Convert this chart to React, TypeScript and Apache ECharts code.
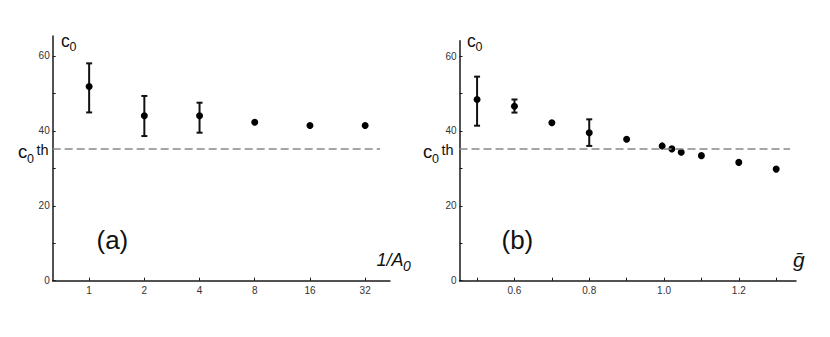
import React, { useEffect, useRef } from "react";
import * as echarts from "echarts";

// Panel (a): c0 versus 1/A0
const aInverse = [1, 2, 4, 8, 16, 32];
const aC0 = [51.8, 44.0, 44.0, 42.3, 41.4, 41.4];
const aErrLow = [44.9, 38.6, 39.5, null, null, null];
const aErrHigh = [58.0, 49.3, 47.5, null, null, null];

// Panel (b): c0 versus g-bar
const gBar = [0.5, 0.6, 0.7, 0.8, 0.9, 0.995, 1.021, 1.046, 1.1, 1.2, 1.3];
const gC0 = [48.4, 46.6, 42.2, 39.5, 37.8, 36.0, 35.2, 34.3, 33.4, 31.6, 29.8];
const gErrLow = [41.4, 44.9, null, 36.0, null, null, null, null, null, null, null];
const gErrHigh = [54.5, 48.4, null, 43.1, null, null, null, null, null, null, null];

const c0Threshold = 35.3;

const yTicks = [0, 10, 20, 30, 40, 50, 60];
const yLabels = [0, 20, 40, 60];
const aTicks = [1, 2, 4, 8, 16, 32];
const gTicks = [0.5, 0.6, 0.7, 0.8, 0.9, 1.0, 1.1, 1.2, 1.3];
const gLabels = [0.6, 0.8, 1.0, 1.2];

const FONT = "'Liberation Sans', Arial, Helvetica, sans-serif";
const AX = "#1a1a1a";
const OFF = 8; // body margin compensation

function errData(xs: number[], lo: (number | null)[], hi: (number | null)[], tf: (v: number) => number) {
  const out: number[][] = [];
  xs.forEach((x, i) => {
    const l = lo[i];
    const h = hi[i];
    if (l != null && h != null) out.push([tf(x), l, h]);
  });
  return out;
}

const errRender = (params: any, api: any) => {
  const x = api.value(0);
  const pLo = api.coord([x, api.value(1)]);
  const pHi = api.coord([x, api.value(2)]);
  const w = 3;
  const st = { stroke: "#111", lineWidth: 2 };
  return {
    type: "group",
    children: [
      { type: "line", shape: { x1: pLo[0], y1: pLo[1], x2: pHi[0], y2: pHi[1] }, style: st },
      { type: "line", shape: { x1: pLo[0] - w, y1: pLo[1], x2: pLo[0] + w, y2: pLo[1] }, style: st },
      { type: "line", shape: { x1: pHi[0] - w, y1: pHi[1], x2: pHi[0] + w, y2: pHi[1] }, style: st },
    ],
  };
};

function yAxisCfg(gridIndex: number, max: number) {
  return {
    type: "value",
    gridIndex,
    min: 0,
    max,
    axisLine: { show: true, onZero: false, lineStyle: { color: AX, width: 1.5 } },
    axisTick: { show: true, inside: true, length: 3, lineStyle: { color: AX }, customValues: yTicks },
    axisLabel: { show: true, customValues: yLabels, margin: 3, fontSize: 10, color: "#333", fontFamily: FONT },
    splitLine: { show: false },
  };
}

function txt(text: string, x: number, y: number, size: number, opts: any = {}) {
  return {
    type: "text",
    x: x - OFF,
    y: y - OFF,
    silent: true,
    style: {
      text,
      fontSize: size,
      fontFamily: FONT,
      fill: "#111",
      verticalAlign: "middle",
      align: "left",
      ...opts,
    },
  };
}

function thresholdLine(x0: number, x1: number) {
  return {
    silent: true,
    symbol: "none",
    label: { show: false },
    lineStyle: { type: [8, 4], color: "#888", width: 1.5 },
    data: [[{ coord: [x0, c0Threshold] }, { coord: [x1, c0Threshold] }]],
  };
}

export default function App() {
  const ref = useRef<HTMLDivElement>(null);
  useEffect(() => {
    if (!ref.current) return;
    const chart = echarts.init(ref.current, null, { renderer: "svg" });
    const log2 = (v: number) => Math.log2(v);
    const ident = (v: number) => v;
    const aMin = -0.66;
    const aMax = 5.45;
    const gMin = 0.453;
    const gMax = 1.353;
    chart.setOption({
      animation: false,
      backgroundColor: "#fff",
      grid: [
        { left: 52.7 - OFF, top: 36 - OFF, width: 337.3, height: 244.7 },
        { left: 459.5 - OFF, top: 40.7 - OFF, width: 336.5, height: 240 },
      ],
      xAxis: [
        {
          type: "value",
          gridIndex: 0,
          min: aMin,
          max: aMax,
          axisLine: { show: true, onZero: false, lineStyle: { color: AX, width: 1.5 } },
          axisTick: { show: true, inside: true, length: 3, lineStyle: { color: AX }, customValues: aTicks.map(log2) },
          axisLabel: {
            show: true,
            customValues: aTicks.map(log2),
            formatter: (v: number) => String(Math.round(Math.pow(2, v))),
            margin: 5,
            fontSize: 10,
            color: "#333",
            fontFamily: FONT,
          },
          splitLine: { show: false },
        },
        {
          type: "value",
          gridIndex: 1,
          min: gMin,
          max: gMax,
          axisLine: { show: true, onZero: false, lineStyle: { color: AX, width: 1.5 } },
          axisTick: { show: true, inside: true, length: 3, lineStyle: { color: AX }, customValues: gTicks },
          axisLabel: {
            show: true,
            customValues: gLabels,
            formatter: (v: number) => v.toFixed(1),
            margin: 5,
            fontSize: 10,
            color: "#333",
            fontFamily: FONT,
          },
          splitLine: { show: false },
        },
      ],
      yAxis: [yAxisCfg(0, 65.3), yAxisCfg(1, 64.1)],
      series: [
        {
          type: "custom",
          xAxisIndex: 0,
          yAxisIndex: 0,
          renderItem: errRender,
          data: errData(aInverse, aErrLow, aErrHigh, log2),
          encode: { x: 0, y: [1, 2] },
          z: 2,
          silent: true,
        },
        {
          type: "scatter",
          xAxisIndex: 0,
          yAxisIndex: 0,
          symbol: "circle",
          symbolSize: 7,
          itemStyle: { color: "#000", opacity: 1 },
          data: aInverse.map((x, i) => [log2(x), aC0[i]]),
          markLine: thresholdLine(aMin, 5.27),
          z: 3,
          silent: true,
        },
        {
          type: "custom",
          xAxisIndex: 1,
          yAxisIndex: 1,
          renderItem: errRender,
          data: errData(gBar, gErrLow, gErrHigh, ident),
          encode: { x: 0, y: [1, 2] },
          z: 2,
          silent: true,
        },
        {
          type: "scatter",
          xAxisIndex: 1,
          yAxisIndex: 1,
          symbol: "circle",
          symbolSize: 7,
          itemStyle: { color: "#000", opacity: 1 },
          data: gBar.map((x, i) => [x, gC0[i]]),
          markLine: thresholdLine(gMin, 1.337),
          z: 3,
          silent: true,
        },
      ],
      graphic: [
        // panel (a) labels
        txt("c", 61, 40.8, 17.5),
        txt("0", 69.5, 47.4, 12.5),
        txt("c", 18, 151.8, 18.5),
        txt("0", 27, 159.1, 12.5),
        txt("th", 36.5, 150.2, 14.5),
        txt("(a)", 96.5, 239.5, 26),
        txt("1/A", 376.5, 259.8, 18, { fontStyle: "italic" }),
        txt("0", 403, 266, 14, { fontStyle: "italic" }),
        // panel (b) labels
        txt("c", 467, 40.8, 17.5),
        txt("0", 475.5, 47.4, 12.5),
        txt("c", 423, 151.8, 18.5),
        txt("0", 432, 159.1, 12.5),
        txt("th", 441.5, 150.2, 14.5),
        txt("(b)", 501.5, 239.5, 26),
        txt("\u1E21", 793, 259, 21, { fontStyle: "italic" }),
      ],
    });
    return () => chart.dispose();
  }, []);
  return <div ref={ref} style={{ width: 830, height: 337 }} />;
}
